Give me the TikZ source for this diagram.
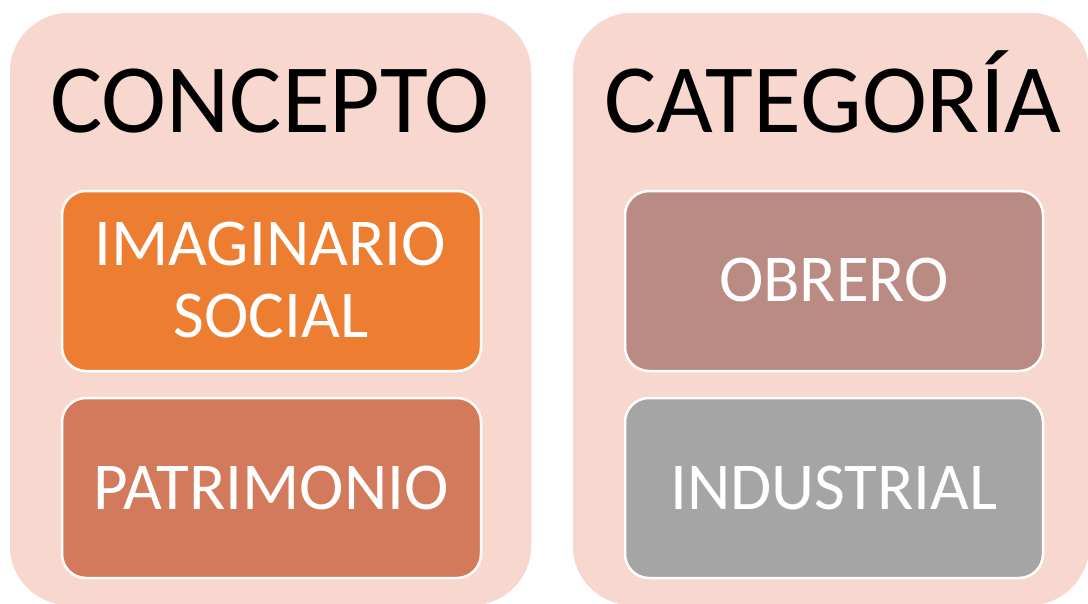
\documentclass[tikz,border=0pt]{standalone}
\usepackage{fontspec}
\setmainfont{Carlito}
\definecolor{outerbg}{HTML}{F8D8CE}
\definecolor{orangebox}{HTML}{ED7D31}
\definecolor{patribox}{HTML}{D27A5B}
\definecolor{obrerobox}{HTML}{BA8B82}
\definecolor{indbox}{HTML}{A5A5A5}
\tikzset{
  outerbox/.style={fill=outerbg, draw=white, line width=1.5pt, rounded corners=60pt},
  innerbox/.style={draw=white, line width=2.5pt, rounded corners=24pt},
  titletext/.style={font=\fontsize{98}{104}\selectfont, text=black, inner sep=0pt, anchor=base},
  innertext/.style={font=\fontsize{67}{72}\selectfont, text=white, inner sep=0pt, anchor=base},
}
\begin{document}
\begin{tikzpicture}[x=1pt,y=-1pt]
\useasboundingbox (0,0) rectangle (1088,603);
\fill[white] (0,0) rectangle (1088,603);
\draw[outerbox] (9,12) rectangle (532,606);
\draw[outerbox] (572,12) rectangle (1090,606);
\draw[innerbox, fill=orangebox] (62,191) rectangle (481,371);
\draw[innerbox, fill=patribox] (62,398) rectangle (481,578);
\draw[innerbox, fill=obrerobox] (625,191) rectangle (1043,371);
\draw[innerbox, fill=indbox] (625,398) rectangle (1043,578);
\node[titletext] (t1) at (270,132) {CONCEPTO};
\node[titletext] (t2) at (833,132) {CATEGORÍA};
\node[innertext] (a1) at (270,265) {IMAGINARIO};
\node[innertext] (a2) at (271,337) {SOCIAL};
\node[innertext] (b) at (271,509) {PATRIMONIO};
\node[innertext] (c) at (834,301) {OBRERO};
\node[innertext] (d) at (834,509) {INDUSTRIAL};
\end{tikzpicture}
\end{document}
